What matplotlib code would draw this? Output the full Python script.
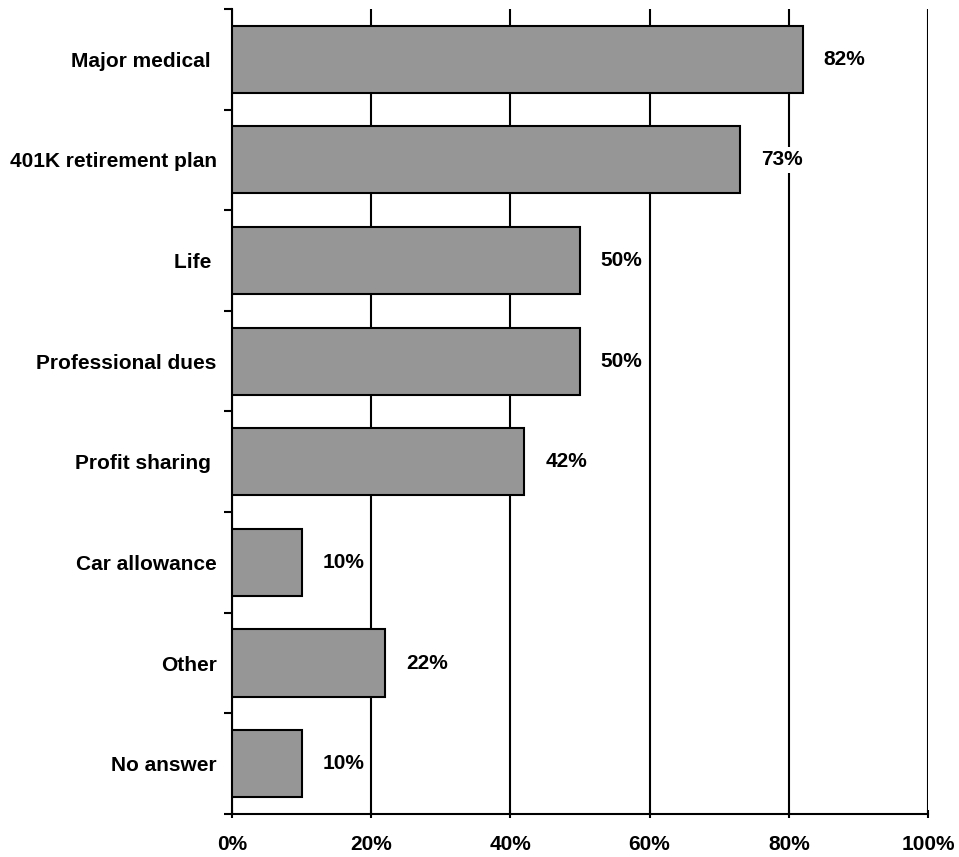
import matplotlib.pyplot as plt
import numpy as np

categories = ['Major medical ', '401K retirement plan', 'Life ', 'Professional dues',
              'Profit sharing ', 'Car allowance', 'Other', 'No answer']
values = [82, 73, 50, 50, 42, 10, 22, 10]
xticks = [0, 20, 40, 60, 80, 100]

plt.rcParams['font.family'] = ['Liberation Sans', 'DejaVu Sans']
plt.rcParams['font.weight'] = 'bold'

fig = plt.figure(figsize=(9.59, 8.57), dpi=100)
ax = fig.add_axes([0.2419, 0.0502, 0.7258, 0.9393])

y = np.arange(len(categories))
ax.barh(y, values, height=0.667, color='#969696', edgecolor='black', linewidth=1.5, zorder=3)

# value labels with a white box so gridlines don't run through them
for yi, v in zip(y, values):
    ax.annotate(f'{v}%', (v, yi), xytext=(15, 0), textcoords='offset points',
                va='center', ha='left', fontsize=15, fontweight='bold', zorder=4,
                bbox=dict(boxstyle='square,pad=0.15', facecolor='white', edgecolor='none'))

ax.set_xlim(0, 100)
ax.set_ylim(len(categories) - 0.5, -0.5)
ax.set_xticks(xticks)
ax.set_xticklabels([f'{t}%' for t in xticks], fontsize=15, fontweight='bold')
ax.set_yticks(y)
ax.set_yticklabels(categories, fontsize=15, fontweight='bold')
ax.set_yticks(np.arange(-0.5, len(categories), 1), minor=True)

ax.xaxis.grid(True, color='black', linewidth=1.5, zorder=0)
ax.tick_params(axis='y', which='major', length=0, pad=11)
ax.tick_params(axis='y', which='minor', length=6, width=1.5, direction='out')
ax.tick_params(axis='x', length=6, width=1.5, direction='inout', pad=12)

for side in ['top', 'right']:
    ax.spines[side].set_visible(False)
for side in ['left', 'bottom']:
    ax.spines[side].set_linewidth(1.5)

fig.savefig('out.png', dpi=100)
